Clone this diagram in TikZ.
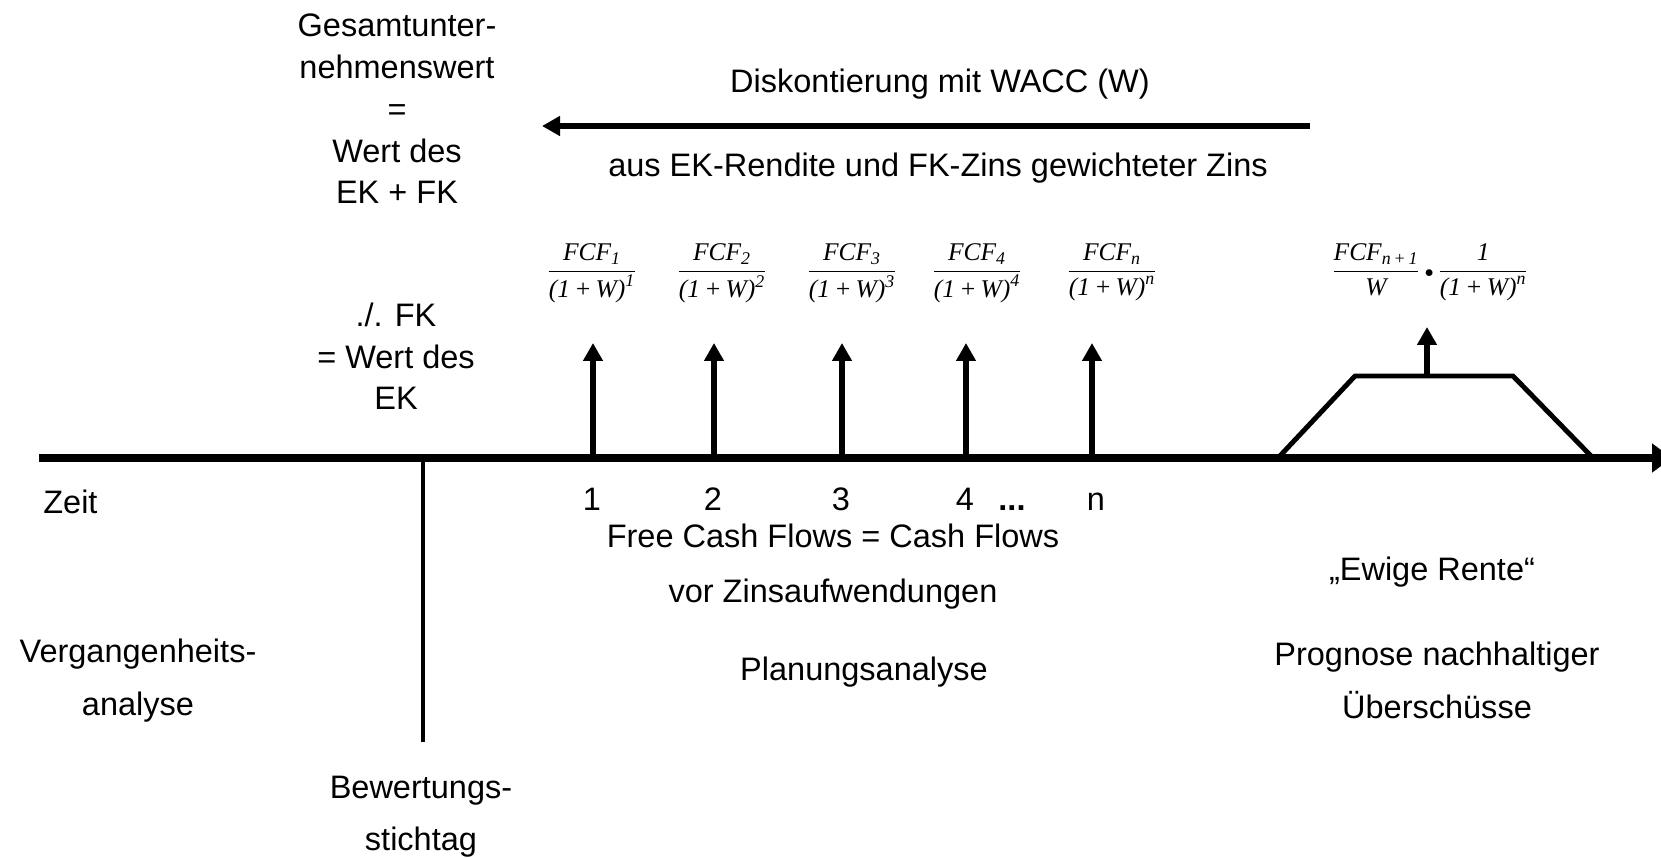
\documentclass[tikz,border=0pt]{standalone}
\usepackage{amsmath}
\usepackage{fontspec}
\setmainfont{Liberation Sans}
\newfontfamily\tnr{Liberation Serif}
\usetikzlibrary{arrows.meta}
\tikzset{>={Triangle[length=0.36cm,width=0.38cm]}}
\tikzset{
	lbl/.style={font=\fontsize{18.5}{23.8}\selectfont, align=center, inner sep=0pt, anchor=base},
	widelbl/.style={lbl, font=\fontsize{18.5}{30}\selectfont},
	fcf/.style={font=\fontsize{14.5}{16}\selectfont\tnr\itshape, inner sep=0pt, anchor=base},
	zeitachse/.style={line width=4.5pt, -{Triangle[length=0.4cm,width=0.56cm]}},
	cashflow/.style={->, line width=3.4pt},
}
\newcommand{\fcfbruch}[2]{$\dfrac{\text{FCF}_{\text{#1}}}{\text{(1\,+\,W)}^{\text{#2}}}$}

\begin{document}
\begin{tikzpicture}[x=0.02cm, y=-0.02cm]
			\useasboundingbox (0, 0) rectangle (1661, 858);
			% Zeitachse und Stichtag
			\coordinate (z0) at (39, 458);
			\coordinate (z1) at (1672, 458);
			\draw [zeitachse] (z0)--(z1);
			\coordinate (b0) at (423, 458);
			\coordinate (b1) at (423, 742);
			\draw [line width=2.3pt] (b0)--(b1);
			\node (zeit) at (43, 513) [lbl, anchor=base west] {Zeit};
			\node (stichtag) at (421, 850) [widelbl] {Bewertungs-\\[-0.5pt]stichtag};
			\node (vergangen) at (138, 715) [widelbl] {Vergangenheits-\\analyse};
			% Unternehmenswert
			\node (gesamt) at (397, 204) [lbl] {Gesamtunter-\\nehmenswert\\=\\Wert des\\EK + FK};
			\node (ekwert) at (396, 410) [lbl] {./. FK\\= Wert des\\EK};
			% Diskontierung
			\coordinate (d0) at (1310, 126);
			\coordinate (d1) at (542, 126);
			\draw [->, line width=3.6pt] (d0)--(d1);
			\node (disk) at (940, 93) [lbl] {Diskontierung mit WACC (W)};
			\node (wacc) at (938, 177) [lbl] {aus EK-Rendite und FK-Zins gewichteter Zins};
			% Planungsphase
			\node (f1) at (592, 278) [fcf] {\fcfbruch{1}{1}};
			\node (f2) at (722, 278) [fcf] {\fcfbruch{2}{2}};
			\node (f3) at (852, 278) [fcf] {\fcfbruch{3}{3}};
			\node (f4) at (977, 278) [fcf] {\fcfbruch{4}{4}};
			\node (fn) at (1112, 278) [fcf] {\fcfbruch{n}{n}};
			\coordinate (a1) at (593, 458);
			\coordinate (t1) at (593, 343);
			\coordinate (a2) at (714, 458);
			\coordinate (t2) at (714, 343);
			\coordinate (a3) at (842, 458);
			\coordinate (t3) at (842, 343);
			\coordinate (a4) at (966, 458);
			\coordinate (t4) at (966, 343);
			\coordinate (an) at (1092, 458);
			\coordinate (tn) at (1092, 343);
			\draw [cashflow] (a1)--(t1);
			\draw [cashflow] (a2)--(t2);
			\draw [cashflow] (a3)--(t3);
			\draw [cashflow] (a4)--(t4);
			\draw [cashflow] (an)--(tn);
			\node (n1) at (592, 510) [lbl] {1};
			\node (n2) at (713, 510) [lbl] {2};
			\node (n3) at (841, 510) [lbl] {3};
			\node (n4) at (965, 510) [lbl] {4};
			\node (dots) at (1012, 510) [lbl] {\textbf{...}};
			\node (nn) at (1096, 510) [lbl] {n};
			\node (fcfl) at (833, 602) [widelbl] {Free Cash Flows = Cash Flows\\[1pt]vor Zinsaufwendungen};
			\node (planung) at (864, 680) [lbl] {Planungsanalyse};
			% Ewige Rente
			\coordinate (r0) at (1278, 458);
			\coordinate (r1) at (1355, 376);
			\coordinate (r2) at (1513, 376);
			\coordinate (r3) at (1593, 458);
			\draw [line width=2.8pt] (r0)--(r1)--(r2)--(r3);
			\coordinate (rm) at (1427, 376);
			\coordinate (rt) at (1427, 327);
			\draw [cashflow] (rm)--(rt);
			\node (fr) at (1430, 278) [fcf] {$\dfrac{\text{FCF}_{\text{n\,+\,1}}}{\text{W}}\,{\scriptstyle\bullet}\,\dfrac{\text{1}}{\text{(1\,+\,W)}^{\text{n}}}$};
			\node (ewig) at (1432, 580) [lbl] {„Ewige Rente“};
			\node (prognose) at (1437, 718) [widelbl] {Prognose nachhaltiger\\Überschüsse};
		\end{tikzpicture}
\end{document}
